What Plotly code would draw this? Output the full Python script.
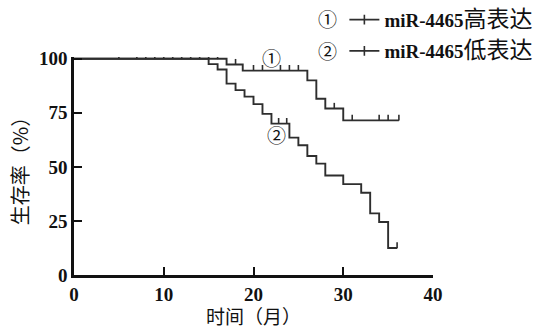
import plotly.graph_objects as go

# ---- data ----
high_t = [0, 17, 18.8, 26, 27, 28, 30, 36.2]
high_s = [100, 97.3, 94.5, 90, 81.5, 77, 71.5, 71.5]
high_cens = [5, 7, 8, 9, 10, 11, 12, 13, 14, 15, 16, 18, 20, 21, 23, 24, 25, 29, 31, 34, 35, 36.2]

low_t = [0, 15, 16, 17, 18, 19, 20, 21, 22, 24, 25, 26, 27, 28, 30, 32, 33, 34, 35, 36]
low_s = [100, 97.5, 95, 88.5, 85.5, 82.5, 79, 74.5, 70, 63.5, 60, 55, 51.5, 46, 42, 38, 28.5, 24.5, 12.5, 12.5]
low_cens = [22.8, 23.7, 36]

names = ["<b>miR-4465</b><span style='font-size:23px'>高表达</span>",
         "<b>miR-4465</b><span style='font-size:23px'>低表达</span>"]
x_ticks = [0, 10, 20, 30, 40]
y_ticks = [0, 25, 50, 75, 100]

LINE = "#2e2e2e"


def step_value(ts, ss, t):
    v = ss[0]
    for ti, si in zip(ts, ss):
        if ti <= t:
            v = si
    return v


fig = go.Figure()

for ts, ss, cens in [(high_t, high_s, high_cens), (low_t, low_s, low_cens)]:
    fig.add_trace(go.Scatter(x=ts, y=ss, mode="lines", line=dict(shape="hv", color=LINE, width=1.9),
                             showlegend=False, hoverinfo="skip"))
    fig.add_trace(go.Scatter(x=cens, y=[step_value(ts, ss, c) for c in cens], mode="markers",
                             marker=dict(size=1, color=LINE),
                             error_y=dict(type="constant", value=2.6, valueminus=0, symmetric=False,
                                          width=0, thickness=1.6, color=LINE),
                             showlegend=False, hoverinfo="skip"))

# legend entries
for i, (nm, lg) in enumerate(zip(names, ["legend", "legend2"])):
    fig.add_trace(go.Scatter(x=[None], y=[None], mode="lines+markers", name=nm, legend=lg,
                             line=dict(color=LINE, width=1.6),
                             marker=dict(symbol="line-ns", size=7, line=dict(color=LINE, width=1.6))))

legfont = dict(family="Liberation Serif, Noto Sans CJK SC", size=19, color="#111")
fig.update_layout(
    width=551, height=329,
    margin=dict(l=74, r=118, t=57, b=54, autoexpand=False),
    paper_bgcolor="white", plot_bgcolor="white",
    showlegend=True,
    legend=dict(x=0.625, y=0.94, xref="container", yref="container", xanchor="left", yanchor="middle",
                font=legfont, bgcolor="rgba(0,0,0,0)", itemwidth=30),
    legend2=dict(x=0.625, y=0.845, xref="container", yref="container", xanchor="left", yanchor="middle",
                 font=legfont, bgcolor="rgba(0,0,0,0)", itemwidth=30),
    xaxis=dict(range=[0, 40], tickvals=x_ticks, ticks="inside", ticklen=8, tickwidth=2.2,
               tickcolor="#111", showline=True, linewidth=2.6, linecolor="#111",
               showgrid=False, zeroline=False, automargin=True,
               tickfont=dict(family="Liberation Serif", size=19, color="#111", weight="bold"),
               title=dict(text="时间（月）", standoff=5,
                          font=dict(family="Noto Sans CJK SC", size=19, color="#111"))),
    yaxis=dict(range=[0, 100.8], tickvals=y_ticks, ticks="inside", ticklen=8, tickwidth=2.2,
               tickcolor="#111", showline=True, linewidth=2.6, linecolor="#111",
               showgrid=False, zeroline=False, automargin=True,
               tickfont=dict(family="Liberation Serif", size=19, color="#111", weight="bold"),
               title=dict(text="生存率（%）", standoff=5,
                          font=dict(family="Noto Sans CJK SC", size=20, color="#111"))),
)

ann_font = dict(family="Noto Sans CJK SC", size=19, color="#111")
fig.add_annotation(x=22, y=100.5, text="①", showarrow=False, font=ann_font, xref="x", yref="y",
                   xanchor="center", yanchor="middle")
fig.add_annotation(x=22.6, y=65, text="②", showarrow=False, font=ann_font, xref="x", yref="y",
                   xanchor="center", yanchor="middle")
fig.add_annotation(x=0.705, y=1.175, text="①", showarrow=False, font=ann_font,
                   xref="paper", yref="paper", xanchor="center", yanchor="middle")
fig.add_annotation(x=0.705, y=1.03, text="②", showarrow=False, font=ann_font,
                   xref="paper", yref="paper", xanchor="center", yanchor="middle")

fig.write_html("out.html", post_script="document.body.style.margin='0';",
               config={"displayModeBar": False})
